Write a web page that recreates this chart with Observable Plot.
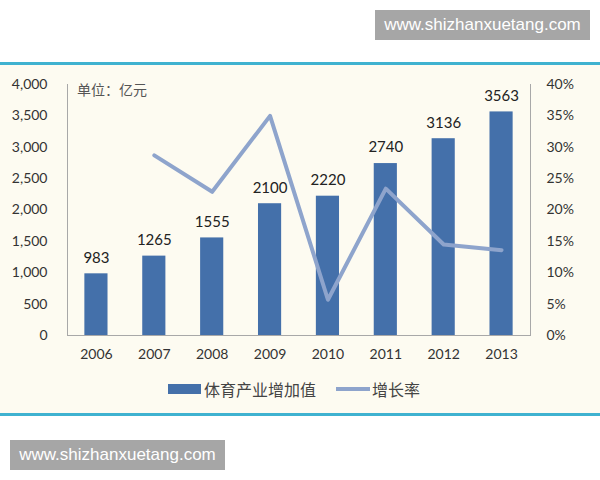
<!DOCTYPE html>
<html>
<head>
<meta charset="utf-8">
<script src="https://cdn.jsdelivr.net/npm/d3@7"></script>
<script src="https://cdn.jsdelivr.net/npm/@observablehq/plot@0.6"></script>
<style>
  html, body { margin: 0; padding: 0; background: #ffffff; }
  #page { position: relative; width: 600px; height: 480px; overflow: hidden; font-family: Lato, "Noto Sans CJK SC", sans-serif; }
  .wm { position: absolute; background: #a6a6a6; color: #ffffff; font-family: "Liberation Sans", Arial, sans-serif; font-size: 17px; line-height: 30px; text-align: center; }
  #panel { position: absolute; left: 0; top: 62px; width: 600px; height: 354px; background: #fdfbf1; border-top: 3px solid #3fb2d0; border-bottom: 3px solid #3fb2d0; box-sizing: border-box; }
  #chart { position: absolute; left: 0; top: -1px; }
  #unit { position: absolute; left: 77px; top: 14px; font-family: "Noto Sans CJK SC", sans-serif; font-size: 14px; color: #555; }
  #legend { position: absolute; top: 313px; left: 0; width: 600px; height: 22px; font-family: "Noto Sans CJK SC", sans-serif; font-size: 16px; color: #444; }
  .sw { position: absolute; }
  .lt { position: absolute; top: 0; line-height: 22px; }
</style>
</head>
<body>
<div id="page">
  <div class="wm" style="left:375px; top:10px; width:215px; height:30px;">www.shizhanxuetang.com</div>
  <div id="panel">
    <div id="chart"></div>
    <div id="unit">单位：亿元</div>
    <div id="legend">
      <div class="sw" style="left:168px; top:6px; width:33px; height:10px; background:#4470aa;"></div>
      <div class="lt" style="left:204px;">体育产业增加值</div>
      <div class="sw" style="left:336px; top:9px; width:34px; height:4px; background:#8ea4cc;"></div>
      <div class="lt" style="left:372px;">增长率</div>
    </div>
  </div>
  <div class="wm" style="left:10px; top:440px; width:215px; height:30px;">www.shizhanxuetang.com</div>
</div>
<script>
const years = ["2006", "2007", "2008", "2009", "2010", "2011", "2012", "2013"];
const values = [983, 1265, 1555, 2100, 2220, 2740, 3136, 3563];
const growthYears = ["2007", "2008", "2009", "2010", "2011", "2012", "2013"];
const growthPct = [28.7, 22.9, 35.0, 5.7, 23.4, 14.5, 13.6];
const leftTicks = [0, 500, 1000, 1500, 2000, 2500, 3000, 3500, 4000];
const rightTicksPct = [0, 5, 10, 15, 20, 25, 30, 35, 40];

const bars = years.map((y, i) => ({year: y, value: values[i]}));
// growth rate drawn on the shared y scale: 40% ↔ 4000
const growth = growthYears.map((y, i) => ({year: y, v: growthPct[i] * 100}));

const chart = Plot.plot({
  width: 600,
  height: 306,
  marginLeft: 67,
  marginRight: 70,
  marginTop: 20,
  marginBottom: 35,
  style: {background: "transparent", fontFamily: "Lato, sans-serif", overflow: "visible"},
  x: {domain: years, paddingInner: 0.6, paddingOuter: 0.3, round: false, label: null},
  y: {domain: [0, 4000], label: null},
  marks: [
    Plot.frame({anchor: "left", stroke: "#a8a8a8"}),
    Plot.frame({anchor: "right", stroke: "#a8a8a8"}),
    Plot.frame({anchor: "bottom", stroke: "#a8a8a8"}),
    Plot.axisY({anchor: "left", ticks: leftTicks, tickSize: 0, tickPadding: 20, tickFormat: d3.format(","), fontSize: 14, fill: "#333", label: null}),
    Plot.axisY({anchor: "right", ticks: rightTicksPct.map(p => p * 100), tickSize: 0, tickPadding: 16, tickFormat: d => (d / 100) + "%", fontSize: 14, fill: "#333", label: null}),
    Plot.axisX({tickSize: 0, tickPadding: 14, fontSize: 14, fill: "#333", label: null}),
    Plot.barY(bars, {x: "year", y: "value", fill: "#4470aa"}),
    Plot.text(bars, {x: "year", y: "value", text: d => String(d.value), dy: -16, fontSize: 15, fill: "#222"}),
    Plot.line(growth, {x: "year", y: "v", stroke: "#8ea4cc", strokeWidth: 4})
  ]
});
document.getElementById("chart").appendChild(chart);
</script>
</body>
</html>
